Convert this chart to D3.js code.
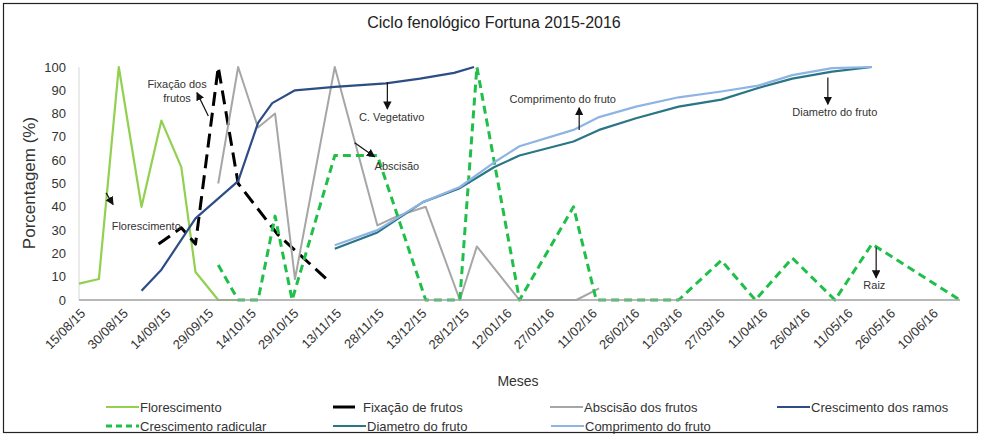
<!DOCTYPE html>
<meta charset="utf-8">
<style>
	body { margin: 0; background: #fff; }
	svg { display: block; font-family: "Liberation Sans", Arial, sans-serif; }
	.series path { fill: none; stroke-linejoin: round; }
	.note { font-size: 11px; fill: #333; }
	.legend text { font-size: 13px; fill: #333; }
</style>
<body>
<script src="https://d3js.org/d3.v7.min.js"></script>
<script>

	// date labels on the x axis (every 15 days)
	var tickLabels = ["15/08/15","30/08/15","14/09/15","29/09/15","14/10/15","29/10/15","13/11/15",
		"28/11/15","13/12/15","28/12/15","12/01/16","27/01/16","11/02/16","26/02/16","12/03/16",
		"27/03/16","11/04/16","26/04/16","11/05/16","26/05/16","10/06/16"];
	var yTicks = [0,10,20,30,40,50,60,70,80,90,100];

	// series, [date, %]
	var florescimento = [["2015-08-15",7],["2015-08-22",9],["2015-08-29",100],["2015-09-06",40],
		["2015-09-13",77],["2015-09-20",57],["2015-09-25",12],["2015-10-03",0],["2015-10-10",0]];
	var fixacao = [["2015-09-12",24],["2015-09-20",31],["2015-09-25",24],["2015-10-03",100],
		["2015-10-10",50],["2015-10-24",28],["2015-11-11",8]];
	var abscisao = [["2015-10-03",50],["2015-10-10",100],["2015-10-17",74],["2015-10-23",80],
		["2015-10-30",9],["2015-11-13",100],["2015-11-28",32],["2015-12-05",36],["2015-12-15",40],
		["2015-12-27",0],["2016-01-02",23],["2016-01-17",0],["2016-02-06",0],["2016-02-14",5]];
	var ramos = [["2015-09-06",4],["2015-09-13",13],["2015-09-25",35],["2015-10-10",51],
		["2015-10-17",76],["2015-10-22",84.5],["2015-10-30",90],["2015-11-13",91.5],
		["2015-12-01",93],["2015-12-13",95],["2015-12-25",97.5],["2016-01-01",100]];
	var radicular = [["2015-10-03",15],["2015-10-10",0],["2015-10-17",0],["2015-10-23",36],
		["2015-10-29",0],["2015-11-13",62],["2015-11-28",62],["2015-12-15",0],["2015-12-27",0],
		["2016-01-02",100],["2016-01-17",0],["2016-02-05",40],["2016-02-13",0],["2016-03-13",0],
		["2016-03-28",17],["2016-04-09",0],["2016-04-22",18],["2016-05-07",0],["2016-05-20",24],
		["2016-06-20",0]];
	var diametro = [["2015-11-13",22],["2015-11-28",29],["2015-12-14",42],["2015-12-27",48],
		["2016-01-08",57],["2016-01-17",62],["2016-02-05",68],["2016-02-14",73],["2016-02-27",78],
		["2016-03-13",83],["2016-03-28",86],["2016-04-10",91],["2016-04-22",95],["2016-05-06",98],
		["2016-05-20",100]];
	var comprimento = [["2015-11-13",23.5],["2015-11-28",30],["2015-12-14",42],["2015-12-27",48.5],
		["2016-01-08",59],["2016-01-17",66],["2016-02-05",73],["2016-02-14",78.5],["2016-02-27",83],
		["2016-03-13",87],["2016-03-28",89.5],["2016-04-10",92],["2016-04-22",96.5],["2016-05-06",99.5],
		["2016-05-20",100]];

	var seriesNames = ["Florescimento","Fixação de frutos","Abscisão dos frutos","Crescimento dos ramos",
		"Crescimento radicular","Diametro do fruto","Comprimento do fruto"];

	// annotation text: [label, day from start, value]
	var notes = [
		["Fixação dos", 34.5, 92.5, "middle"], ["frutos", 34.5, 86.5, "middle"],
		["Florescimento", 11.5, 31.5, "start"], ["C. Vegetativo", 98.5, 78.5, "start"],
		["Abscisão", 104, 57.5, "start"], ["Comprimento do fruto", 151.5, 86, "start"],
		["Diametro do fruto", 251, 80.5, "start"], ["Raiz", 276, 6.5, "start"]];
	// arrows: [day1, v1, day2, v2]
	var arrows = [[45.5,79,41.5,89],[9.5,46,12,41],[108.5,93.5,108.5,82],[97,67.5,104,61.5],
		[176,73,176,82.5],[263.5,95.5,263.5,84],[280.5,22.5,280.5,9.5]];

	var width = 985, height = 435;
	var parse = d3.timeParse("%Y-%m-%d"),
		parseTick = d3.timeParse("%d/%m/%y");
	var start = parse("2015-08-15");

	var x = d3.scaleTime()
		.domain([start, parse("2016-06-20")])
		.range([79, 960]);
	var y = d3.scaleLinear()
		.domain([0, 100])
		.range([300, 67]);

	var svg = d3.select("body").append("svg")
		.attr("width", width)
		.attr("height", height);

	svg.append("rect")
		.attr("x", 3.5).attr("y", 3.5)
		.attr("width", 974).attr("height", 429)
		.attr("fill", "#fff").attr("stroke", "#222").attr("stroke-width", 1.2);

	svg.append("text")
		.attr("x", 494).attr("y", 28)
		.attr("text-anchor", "middle")
		.style("font-size", "16px").style("fill", "#222")
		.text("Ciclo fenológico Fortuna 2015-2016");

	// axes
	svg.append("line")
		.attr("x1", x.range()[0]).attr("x2", x.range()[0])
		.attr("y1", y(100)).attr("y2", y(0))
		.attr("stroke", "#d6d6d6").attr("stroke-width", 1);

	svg.append("g").selectAll("text")
		.data(yTicks)
		.enter().append("text")
		.attr("x", 66).attr("y", function(d) { return y(d); })
		.attr("dy", "0.35em")
		.attr("text-anchor", "end")
		.style("font-size", "13px").style("fill", "#333")
		.text(function(d) { return d; });

	svg.append("text")
		.attr("transform", "translate(35,183) rotate(-90)")
		.attr("text-anchor", "middle")
		.style("font-size", "17px").style("fill", "#333")
		.text("Porcentagem (%)");

	svg.append("g").selectAll("text")
		.data(tickLabels)
		.enter().append("text")
		.attr("transform", function(d) { return "translate(" + (x(parseTick(d)) + 4) + ",311) rotate(-45)"; })
		.attr("text-anchor", "end")
		.attr("dy", "0.35em")
		.style("font-size", "13px").style("fill", "#333")
		.text(function(d) { return d; });

	svg.append("text")
		.attr("x", 518).attr("y", 386)
		.attr("text-anchor", "middle")
		.style("font-size", "14px").style("fill", "#333")
		.text("Meses");

	var styles = [
		{color: "#92d050", width: 2.2, dash: null},
		{color: "#000000", width: 3, dash: "14,7"},
		{color: "#a6a6a6", width: 2, dash: null},
		{color: "#2d4d86", width: 2.2, dash: null},
		{color: "#1fbf4a", width: 3, dash: "8,5"},
		{color: "#2a7586", width: 2.2, dash: null},
		{color: "#8eb4e3", width: 2.2, dash: null}
	];
	var allSeries = [florescimento, fixacao, abscisao, ramos, radicular, diametro, comprimento];

	var line = d3.line()
		.x(function(d) { return x(parse(d[0])); })
		.y(function(d) { return y(d[1]); });

	svg.append("g").attr("class", "series")
		.selectAll("path")
		.data(allSeries)
		.enter().append("path")
		.attr("d", line)
		.attr("stroke", function(d, i) { return styles[i].color; })
		.attr("stroke-width", function(d, i) { return styles[i].width; })
		.attr("stroke-dasharray", function(d, i) { return styles[i].dash; });

	// x axis line drawn over the zero values, like the original
	svg.append("line")
		.attr("x1", x.range()[0]).attr("x2", x.range()[1])
		.attr("y1", y(0)).attr("y2", y(0))
		.attr("stroke", "#a0a0a0").attr("stroke-width", 1.5);

	// annotations
	svg.append("defs").append("marker")
		.attr("id", "head")
		.attr("viewBox", "0 0 10 10")
		.attr("refX", 9).attr("refY", 5)
		.attr("markerWidth", 7).attr("markerHeight", 7)
		.attr("orient", "auto")
		.append("path").attr("d", "M0,0L10,5L0,10z").attr("fill", "#111");

	function dayX(dd) { return x(d3.timeDay.offset(start, Math.floor(dd)) ) + (dd % 1) * (x(d3.timeDay.offset(start, 1)) - x(start)); }

	svg.append("g").selectAll("line")
		.data(arrows)
		.enter().append("line")
		.attr("x1", function(d) { return dayX(d[0]); })
		.attr("y1", function(d) { return y(d[1]); })
		.attr("x2", function(d) { return dayX(d[2]); })
		.attr("y2", function(d) { return y(d[3]); })
		.attr("stroke", "#111").attr("stroke-width", 1.2)
		.attr("marker-end", "url(#head)");

	svg.append("g").selectAll("text")
		.data(notes)
		.enter().append("text")
		.attr("class", "note")
		.attr("x", function(d) { return dayX(d[1]); })
		.attr("y", function(d) { return y(d[2]); })
		.attr("dy", "0.35em")
		.attr("text-anchor", function(d) { return d[3]; })
		.text(function(d) { return d[0]; });

	// legend
	var legendPos = [[106,407],[330,407],[550,407],[777,407],[106,426],[333,426],[551,426]];
	var legend = svg.append("g").attr("class", "legend")
		.selectAll("g")
		.data(seriesNames)
		.enter().append("g")
		.attr("transform", function(d, i) { return "translate(" + legendPos[i][0] + "," + legendPos[i][1] + ")"; });

	legend.append("line")
		.attr("x1", function(d, i) { return i == 1 ? 3 : 0; })
		.attr("x2", function(d, i) { return i == 1 ? 25 : 33; })
		.attr("stroke", function(d, i) { return styles[i].color; })
		.attr("stroke-width", function(d, i) { return styles[i].width; })
		.attr("stroke-dasharray", function(d, i) { return i == 4 ? "6,4" : null; });

	legend.append("text")
		.attr("x", function(d, i) { return i == 1 ? 33 : 34; })
		.attr("dy", "0.35em")
		.text(function(d) { return d; });

</script>
</body>
